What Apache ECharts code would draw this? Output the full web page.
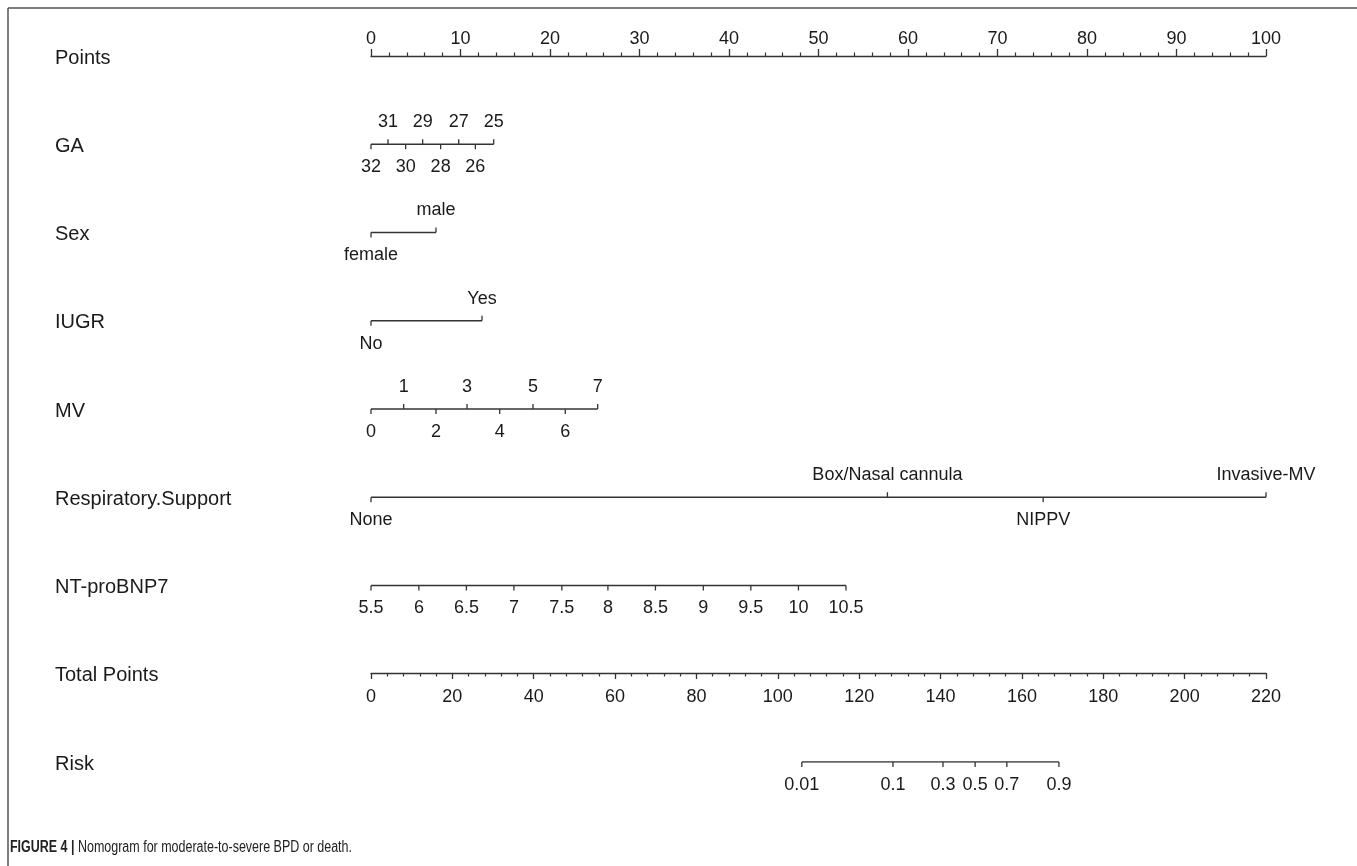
<!DOCTYPE html>
<html><head><meta charset="utf-8">
<script src="https://cdn.jsdelivr.net/npm/echarts@6/dist/echarts.min.js"></script>
<style>html,body{margin:0;padding:0;background:#fff}#c{width:1357px;height:866px}</style>
</head><body><div id="c"></div>
<script>
// ---- data ----
const rowNames = ['Points','GA','Sex','IUGR','MV','Respiratory.Support','NT-proBNP7','Total Points','Risk'];
const pointsMin = 0, pointsMax = 100, pointsStep = 10;
const totalMin = 0, totalMax = 220, totalStep = 20;
const gaLabels = ['32','31','30','29','28','27','26','25'];
const gaPoints = [0,1.90,3.87,5.77,7.78,9.80,11.66,13.71];
const sexLabels = ['female','male'];
const sexPoints = [0,7.26];
const iugrLabels = ['No','Yes'];
const iugrPoints = [0,12.4];
const mvLabels = ['0','1','2','3','4','5','6','7'];
const mvPoints = [0,3.65,7.26,10.73,14.38,18.1,21.71,25.33];
const respLabels = ['None','Box/Nasal cannula','NIPPV','Invasive-MV'];
const respPoints = [0,57.7,75.1,100];
const ntLabels = ['5.5','6','6.5','7','7.5','8','8.5','9','9.5','10','10.5'];
const ntPoints = [0,5.35,10.66,15.97,21.32,26.47,31.78,37.13,42.44,47.76,53.07];
const riskLabels = ['0.01','0.1','0.3','0.5','0.7','0.9'];
const riskTotalPoints = [105.9,128.3,140.6,148.5,156.3,169.1];

// ---- styles ----
const FONT = '"Liberation Sans", Arial, sans-serif';
const TXT = '#1a1a1a', LINE = '#333';
const TICK_FS = 18, ROW_FS = 20;

const chart = echarts.init(document.getElementById('c'), null, {renderer:'canvas'});

function rowSeries(labels, pts, row, mode, xAxisIndex) {
  const series = [];
  series.push({
    type:'line', xAxisIndex: xAxisIndex||0, yAxisIndex:0, silent:true, symbol:'none',
    lineStyle:{color:LINE, width:1.3}, animation:false,
    data:[[pts[0], row],[pts[pts.length-1], row]]
  });
  series.push({
    type:'custom', xAxisIndex: xAxisIndex||0, yAxisIndex:0, silent:true, animation:false, clip:false,
    data: pts.map(p => [p, row]),
    renderItem: function(params, api){
      const c = api.coord([api.value(0), api.value(1)]);
      const i = params.dataIndex;
      const side = (mode === 'alt' && i % 2 === 1) ? -1 : 1;
      return {type:'group', children:[
        {type:'line', shape:{x1:c[0], y1:c[1], x2:c[0], y2:c[1] + side*5}, style:{stroke:LINE, lineWidth:1.3}},
        {type:'text', x:c[0], y:c[1] + side*22 + (side>0?1:0), style:{text:labels[i], fill:TXT, font:TICK_FS+'px '+FONT, align:'center', verticalAlign:'middle'}}
      ]};
    }
  });
  return series;
}

const series = [].concat(
  rowSeries(gaLabels, gaPoints, 1, 'alt'),
  rowSeries(sexLabels, sexPoints, 2, 'alt'),
  rowSeries(iugrLabels, iugrPoints, 3, 'alt'),
  rowSeries(mvLabels, mvPoints, 4, 'alt'),
  rowSeries(respLabels, respPoints, 5, 'alt'),
  rowSeries(ntLabels, ntPoints, 6, 'below'),
  rowSeries(riskLabels, riskTotalPoints, 8, 'below', 1)
);
// row names
series.push({
  type:'custom', xAxisIndex:0, yAxisIndex:0, silent:true, animation:false, clip:false,
  data: rowNames.map((n,i)=>[0,i]),
  renderItem: function(params, api){
    const c = api.coord([0, api.value(1)]);
    return {type:'text', x:55, y:c[1]+2, style:{text:rowNames[params.dataIndex], fill:TXT, font:ROW_FS+'px '+FONT, align:'left', verticalAlign:'middle'}};
  }
});

const option = {
  backgroundColor:'#fff',
  animation:false,
  grid:{left:371, right:91, top:56, bottom:104, containLabel:false},
  xAxis:[
    {type:'value', position:'top', min:pointsMin, max:pointsMax, interval:pointsStep,
     axisLine:{show:true, lineStyle:{color:LINE, width:1.3}},
     axisTick:{show:true, inside:false, length:7, lineStyle:{color:LINE, width:1.3}},
     minorTick:{show:true, splitNumber:5, length:3.5, lineStyle:{color:LINE, width:1.2}},
     axisLabel:{show:true, margin:8, fontSize:TICK_FS, color:TXT, fontFamily:FONT},
     splitLine:{show:false}, minorSplitLine:{show:false}},
    {type:'value', position:'bottom', offset:-89, min:totalMin, max:totalMax, interval:totalStep,
     axisLine:{show:true, onZero:false, lineStyle:{color:LINE, width:1.3}},
     axisTick:{show:true, inside:false, length:6, lineStyle:{color:LINE, width:1.3}},
     minorTick:{show:true, splitNumber:5, length:3.5, lineStyle:{color:LINE, width:1.2}},
     axisLabel:{show:true, margin:15, fontSize:TICK_FS, color:TXT, fontFamily:FONT},
     splitLine:{show:false}, minorSplitLine:{show:false}}
  ],
  yAxis:[{type:'value', min:0, max:8, inverse:true, show:false}],
  series: series,
  graphic:[
    {type:'line', shape:{x1:8, y1:8, x2:1357, y2:8}, style:{stroke:'#555', lineWidth:1.5}, silent:true},
    {type:'line', shape:{x1:8, y1:8, x2:8, y2:866}, style:{stroke:'#555', lineWidth:1.5}, silent:true},
    {type:'text', x:10, y:840, scaleX:0.78, silent:true, style:{
      text:'{b|FIGURE 4 |}{n| Nomogram for moderate-to-severe BPD or death.}',
      rich:{
        b:{fontFamily:FONT, fontWeight:'bold', fontSize:16, fill:'#222'},
        n:{fontFamily:FONT, fontSize:16, fill:'#222'}
      }}}
  ]
};
chart.setOption(option);
</script></body></html>
